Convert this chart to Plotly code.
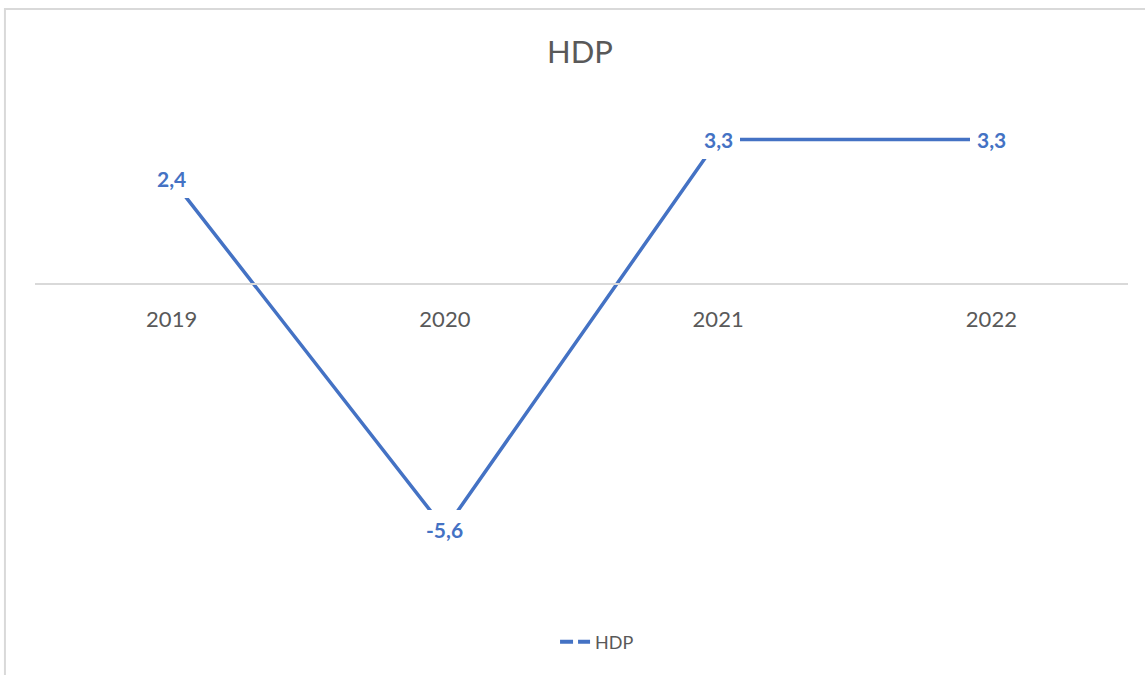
import plotly.graph_objects as go

years = ["2019", "2020", "2021", "2022"]
hdp = [2.4, -5.6, 3.3, 3.3]
series_name = "HDP"
title_text = "HDP"

BLUE = "#4472C4"
GREY = "#595959"
FONT = "Lato"

ymin, ymax = -7.215, 4.2

fig = go.Figure()
fig.add_trace(go.Scatter(
    x=years, y=hdp, mode="lines",
    line=dict(color=BLUE, width=3.5),
    showlegend=False, hoverinfo="skip",
))
# legend-only sample
fig.add_trace(go.Scatter(
    x=[None], y=[None], mode="lines", name=series_name,
    line=dict(color=BLUE, width=4, dash="13px,5px"),
))

for i, v in enumerate(hdp):
    fig.add_annotation(
        x=i, y=v, xref="x", yref="y",
        text="<b>" + f"{v:.1f}".replace(".", ",") + "</b>",
        showarrow=False, bgcolor="white", borderwidth=0, borderpad=7,
        font=dict(family=FONT, size=21, color=BLUE),
    )

# chart outer border
fig.add_shape(type="rect", xref="paper", yref="paper",
              x0=-0.0275, x1=1.1, y0=-0.3, y1=1.182,
              line=dict(color="#d9d9d9", width=2), fillcolor="rgba(0,0,0,0)",
              layer="below")

pos = (0 - ymin) / (ymax - ymin)

fig.update_layout(
    width=1145, height=675,
    margin=dict(l=35, r=17, t=100, b=75),
    paper_bgcolor="white", plot_bgcolor="white",
    title=dict(text=title_text, x=580/1145, xref="container", xanchor="center",
               y=1 - 52/675, yref="container", yanchor="middle",
               font=dict(family=FONT, size=31, color=GREY)),
    xaxis=dict(type="category", range=[-0.5, 3.5], anchor="free", position=pos,
               showline=True, linecolor="#d9d9d9", linewidth=1.5,
               showgrid=False, zeroline=False,
               ticks="outside", ticklen=16, tickcolor="rgba(0,0,0,0)",
               tickfont=dict(family=FONT, size=22, color=GREY)),
    yaxis=dict(range=[ymin, ymax], showticklabels=False, ticks="", showline=False,
               showgrid=False, zeroline=False),
    legend=dict(orientation="h", x=0.4758, xanchor="left", y=-0.084, yanchor="middle",
                font=dict(family=FONT, size=18, color=GREY), bgcolor="rgba(0,0,0,0)"),
    hovermode=False,
)

fig.write_html("out.html", config={"displayModeBar": False},
               post_script="document.body.style.margin='0';")
